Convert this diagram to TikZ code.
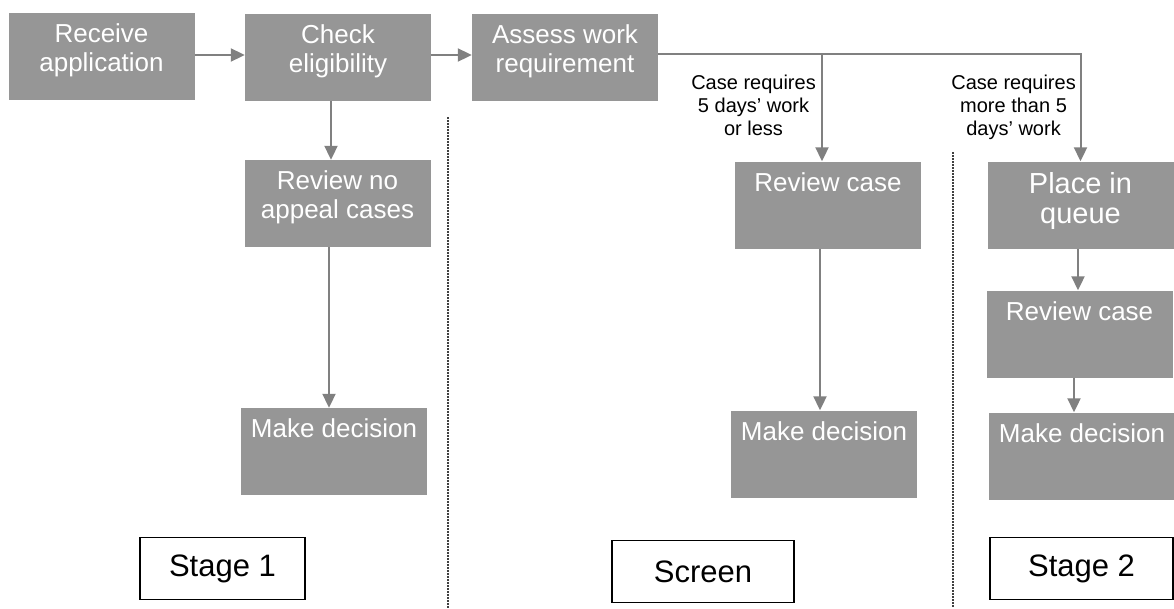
\documentclass[tikz,border=0pt]{standalone}
\usepackage{fontspec}
\setmainfont{Liberation Sans}
\usetikzlibrary{arrows.meta}
\definecolor{boxgray}{RGB}{150,150,150}
\definecolor{arrgray}{RGB}{128,128,128}
\begin{document}
\begin{tikzpicture}[
                x = 1pt, y = -1pt,
                box/.style = {fill = boxgray, inner sep = 0mm, minimum width = 186pt, minimum height = 87pt},
                boxtxt/.style = {anchor = north, yshift = -11pt, inner sep = 0mm, text = white, align = center, font = \fontsize{26}{29}\selectfont},
                note/.style = {anchor = north east, inner sep = 0mm, align = center, font = \fontsize{20}{23}\selectfont},
                stagebox/.style = {draw, line width = 1.5pt, fill = white, inner sep = 0mm, minimum height = 62pt, font = \fontsize{31}{36}\selectfont},
                arr/.style = {draw, arrgray, line width = 2pt, -{Triangle[length = 14pt, width = 13pt]}},
                divider/.style = {draw, black!75, line width = 1.5pt, dash pattern = on 1.5pt off 1.5pt},
            ]
            \useasboundingbox (0, 0) rectangle (1174, 608);

            % first row
            \node (recv) at (101.5, 56.5) [box, label = {[boxtxt]north:Receive\\application}] {};
            \node (check) at (338, 57) [box, label = {[boxtxt]north:Check\\eligibility}] {};
            \node (assess) at (565, 57) [box, label = {[boxtxt]north:Assess work\\requirement}] {};

            % stage 1 column
            \node (review1) at (337.5, 203.5) [box, label = {[boxtxt]north:Review no\\appeal cases}] {};
            \node (decide1) at (334, 451.5) [box, label = {[boxtxt]north:Make decision}] {};

            % screen column
            \node (review2) at (828, 205) [box, label = {[boxtxt]north:Review case}] {};
            \node (decide2) at (824, 454) [box, label = {[boxtxt]north:Make decision}] {};

            % stage 2 column
            \node (queue) at (1080.5, 205) [box, label = {[boxtxt, font = \fontsize{29}{30}\selectfont]north:Place in\\queue}] {};
            \node (review3) at (1079.5, 334) [box, label = {[boxtxt]north:Review case}] {};
            \node (decide3) at (1082, 456) [box, label = {[boxtxt]north:Make decision}] {};

            \node (small) at (816, 75) [note] {Case requires\\5 days’ work\\or less};
            \node (large) at (1076, 75) [note] {Case requires\\more than 5\\days’ work};

            \node (stage1) at (222.5, 568.5) [stagebox, minimum width = 165pt] {Stage 1};
            \node (screen) at (703, 571.5) [stagebox, minimum width = 182pt] {Screen};
            \node (stage2) at (1081.5, 568.5) [stagebox, minimum width = 183pt] {Stage 2};

            \path[divider] (448, 117) -- (448, 608);
            \path[divider] (953, 152) -- (953, 608);

            \coordinate (fork) at (822, 54);

            \path[arr] ([yshift = 1.5pt]recv.east) -- ([yshift = 1.5pt]recv.east -| check.west);
            \path[arr] ([yshift = 2pt]check.east) -- ([yshift = 2pt]check.east -| assess.west);
            \path[arr] (assess.east |- fork) -| (queue.north);
            \path[arr] (fork) -- (fork |- review2.north);
            \path[arr] ([xshift = -7pt]check.south) -- ([xshift = -7pt]check.south |- review1.north);
            \path[arr] ([xshift = -8.5pt]review1.south) -- ([xshift = -8.5pt]review1.south |- decide1.north);
            \path[arr] ([xshift = -8pt]review2.south) -- ([xshift = -8pt]review2.south |- decide2.north);
            \path[arr] ([xshift = -2.5pt]queue.south) -- ([xshift = -2.5pt]queue.south |- review3.north);
            \path[arr] ([xshift = -5.5pt]review3.south) -- ([xshift = -5.5pt]review3.south |- decide3.north);
        \end{tikzpicture}
\end{document}
